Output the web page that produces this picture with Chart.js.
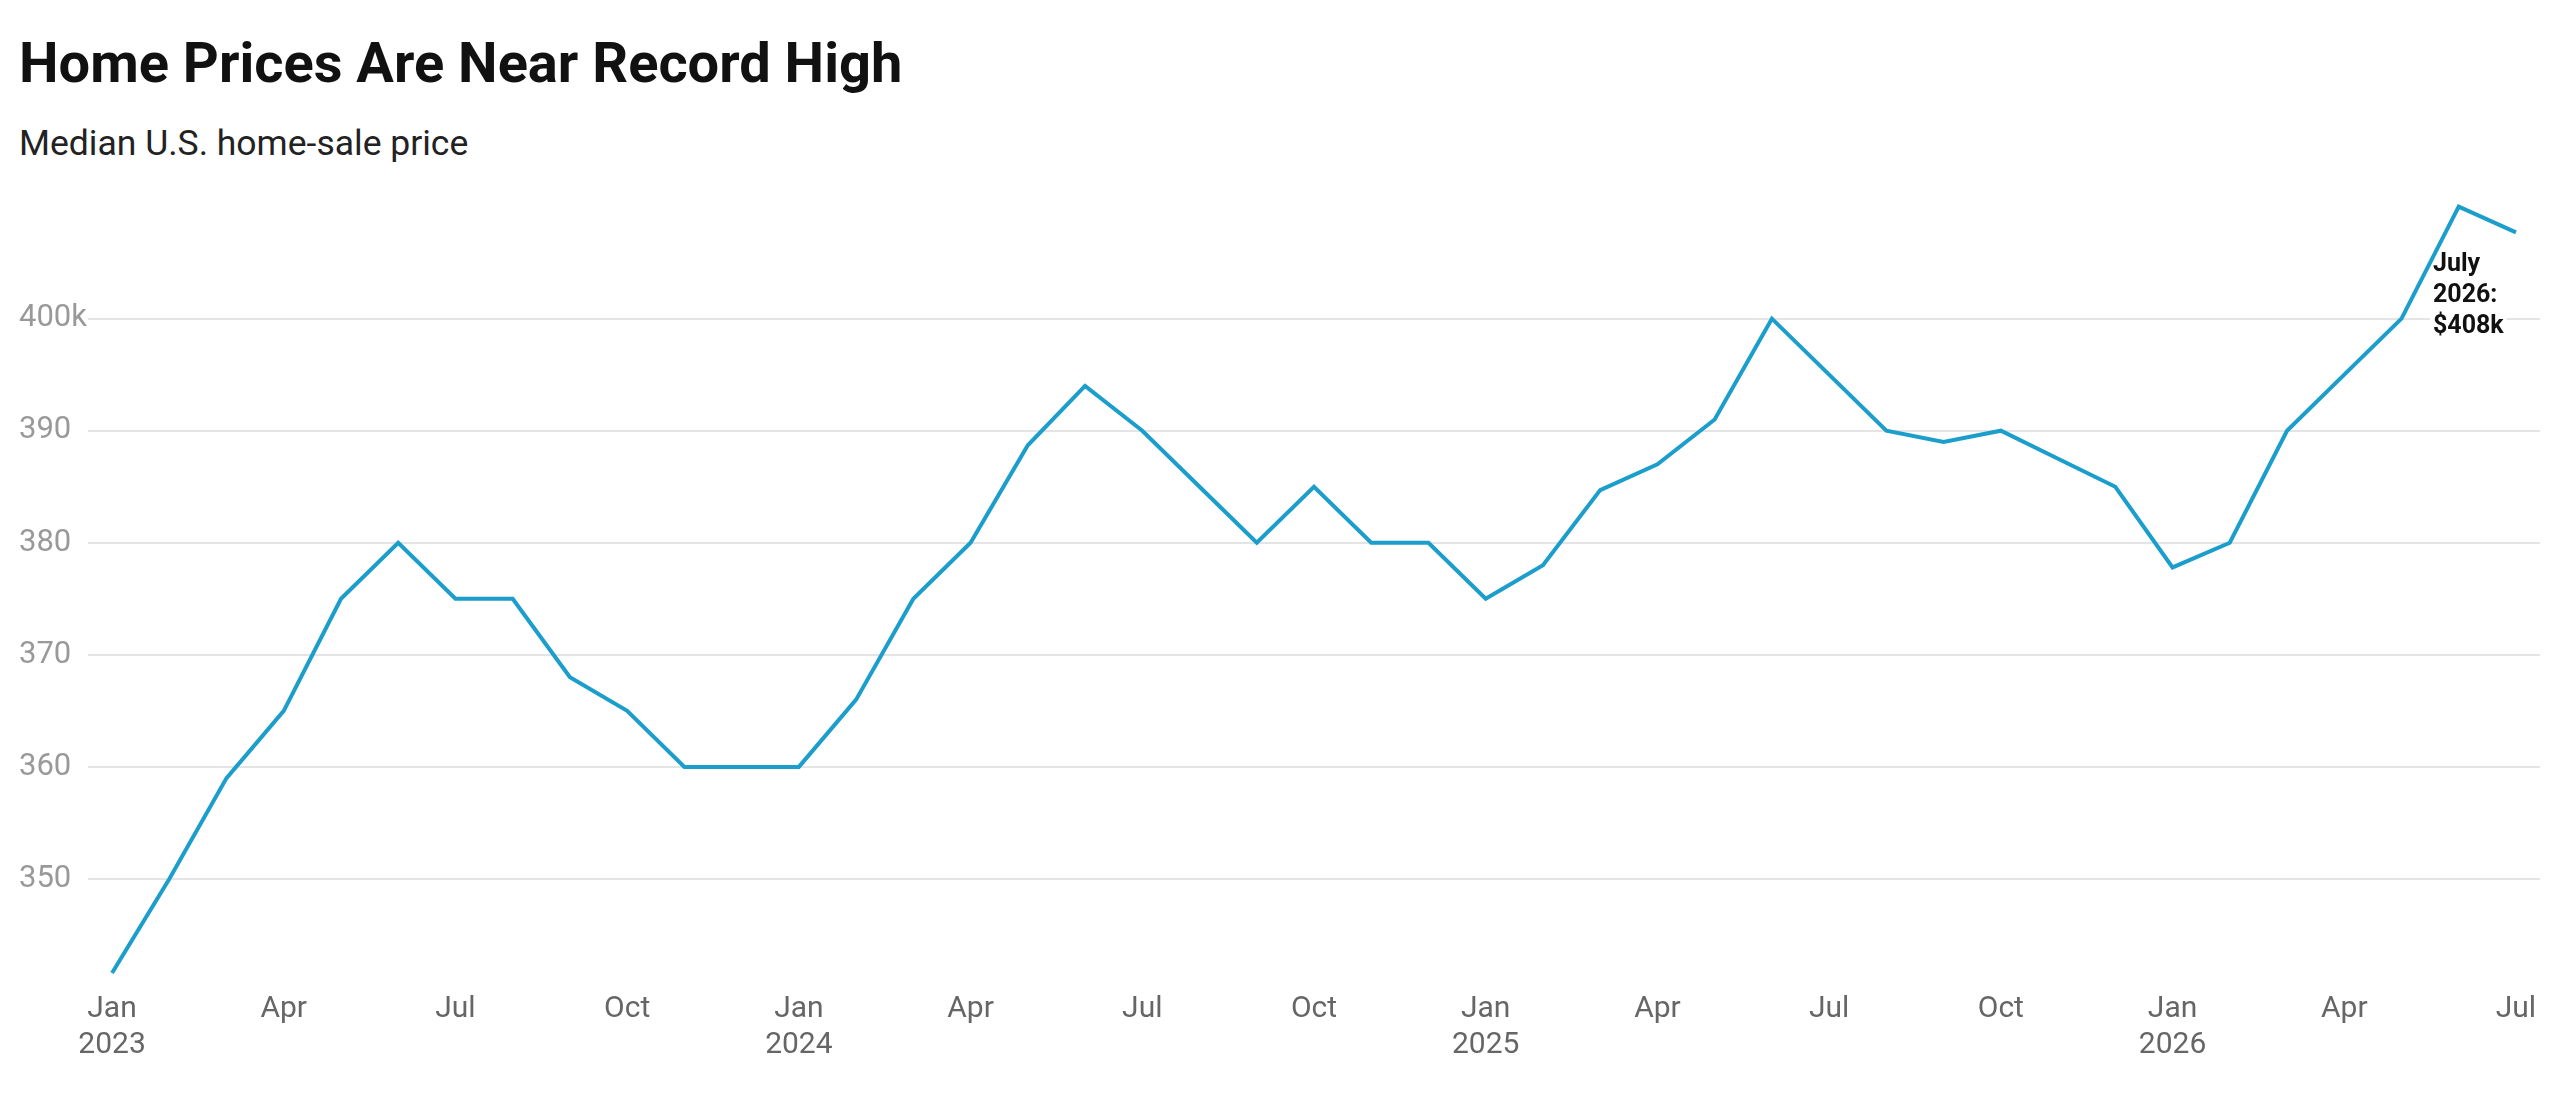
<!DOCTYPE html>
<html>
<head>
<meta charset="utf-8">
<script src="https://cdn.jsdelivr.net/npm/chart.js@4.4.1/dist/chart.umd.min.js"></script>
<style>
  html, body { margin: 0; padding: 0; background: #fff; }
  body { width: 2560px; height: 1095px; position: relative; overflow: hidden; font-family: Roboto, "Noto Sans", sans-serif; }
  #titulo { position: absolute; left: 19px; top: 35px; font-size: 56px; line-height: 56px; font-weight: 700; color: #111; white-space: nowrap; }
  #subtitulo { position: absolute; left: 19px; top: 126px; font-size: 35.5px; line-height: 35.5px; color: #222; white-space: nowrap; }
  #caixa { position: absolute; left: 0; top: 0; width: 2560px; height: 1095px; }
</style>
</head>
<body>
<div id="titulo">Home Prices Are Near Record High</div>
<div id="subtitulo">Median U.S. home-sale price</div>
<div id="caixa"><canvas id="grafico"></canvas></div>
<script>
// meses de jan/2023 a jul/2026
const meses = [
  "Jan 2023","Feb 2023","Mar 2023","Apr 2023","May 2023","Jun 2023","Jul 2023","Aug 2023","Sep 2023","Oct 2023","Nov 2023","Dec 2023",
  "Jan 2024","Feb 2024","Mar 2024","Apr 2024","May 2024","Jun 2024","Jul 2024","Aug 2024","Sep 2024","Oct 2024","Nov 2024","Dec 2024",
  "Jan 2025","Feb 2025","Mar 2025","Apr 2025","May 2025","Jun 2025","Jul 2025","Aug 2025","Sep 2025","Oct 2025","Nov 2025","Dec 2025",
  "Jan 2026","Feb 2026","Mar 2026","Apr 2026","May 2026","Jun 2026","Jul 2026"
];

// preço mediano em milhares de dólares
const precos = [
  341.6, 350, 359, 365, 375, 380, 375, 375, 368, 365, 360, 360,
  360, 366, 375, 380, 388.7, 394, 390, 385, 380, 385, 380, 380,
  375, 378, 384.7, 387, 391, 400, 395, 390, 389, 390, 387.5, 385,
  377.8, 380, 390, 395, 400, 410, 407.7
];

const posicoesX = [0, 3, 6, 9, 12, 15, 18, 21, 24, 27, 30, 33, 36, 39, 42];
const rotulosX = [
  ["Jan","2023"], "Apr", "Jul", "Oct",
  ["Jan","2024"], "Apr", "Jul", "Oct",
  ["Jan","2025"], "Apr", "Jul", "Oct",
  ["Jan","2026"], "Apr", "Jul"
];
const valoresY = [350, 360, 370, 380, 390, 400];
const rotulosY = ["350", "360", "370", "380", "390", "400k"];

const anotacao = ["July", "2026:", "$408k"];

// desenha o rótulo do último ponto (antes da linha, com fundo branco)
const rotuloFinal = {
  id: "rotuloFinal",
  beforeDatasetsDraw(chart){
    const meta = chart.getDatasetMeta(0);
    const pt = meta.data[meta.data.length - 1];
    const ctx = chart.ctx;
    ctx.save();
    ctx.font = "700 25px Roboto";
    ctx.textBaseline = "alphabetic";
    ctx.textAlign = "left";
    const x = pt.x - 83;
    anotacao.forEach((linha, i) => {
      const y = pt.y + 39 + i * 31;
      const w = ctx.measureText(linha).width;
      ctx.fillStyle = "#fff";
      ctx.fillRect(x - 3, y - 22, w + 6, 29);
    });
    ctx.fillStyle = "#111";
    anotacao.forEach((linha, i) => {
      ctx.fillText(linha, x, pt.y + 39 + i * 31);
    });
    ctx.restore();
  }
};

new Chart("grafico", {
  type: "line",
  data: {
    labels: meses,
    datasets: [{
      label: "Median home-sale price",
      data: precos.map((v, i) => ({x: i, y: v})),
      borderColor: "#1b9ecb",
      borderWidth: 4,
      pointRadius: 0,
      tension: 0,
      fill: false
    }]
  },
  options: {
    responsive: true,
    maintainAspectRatio: false,
    animation: false,
    layout: { padding: { left: 19, right: 20, top: 201, bottom: 0 } },
    plugins: { legend: { display: false }, title: { display: false }, tooltip: { enabled: false } },
    scales: {
      x: {
        type: "linear",
        min: -0.42,
        max: 42.42,
        afterBuildTicks: (s) => { s.ticks = posicoesX.map(v => ({value: v})); },
        afterFit: (s) => { s.height = 104; },
        grid: { display: false, drawTicks: false },
        border: { display: false },
        ticks: {
          autoSkip: false,
          maxRotation: 0,
          padding: 0,
          color: "#666",
          font: { family: "Roboto", size: 30, lineHeight: 1.2 },
          callback: (v) => rotulosX[posicoesX.indexOf(v)]
        }
      },
      y: {
        min: 340,
        max: 410.5,
        afterBuildTicks: (s) => { s.ticks = valoresY.map(v => ({value: v})); },
        afterFit: (s) => { s.width = 69; },
        grid: { color: "#e4e4e4", lineWidth: 2, drawTicks: false },
        border: { display: false },
        ticks: {
          crossAlign: "far",
          padding: 0,
          color: "#999",
          font: { family: "Roboto", size: 31 },
          callback: (v) => rotulosY[valoresY.indexOf(v)]
        }
      }
    }
  },
  plugins: [rotuloFinal]
});
</script>
</body>
</html>
